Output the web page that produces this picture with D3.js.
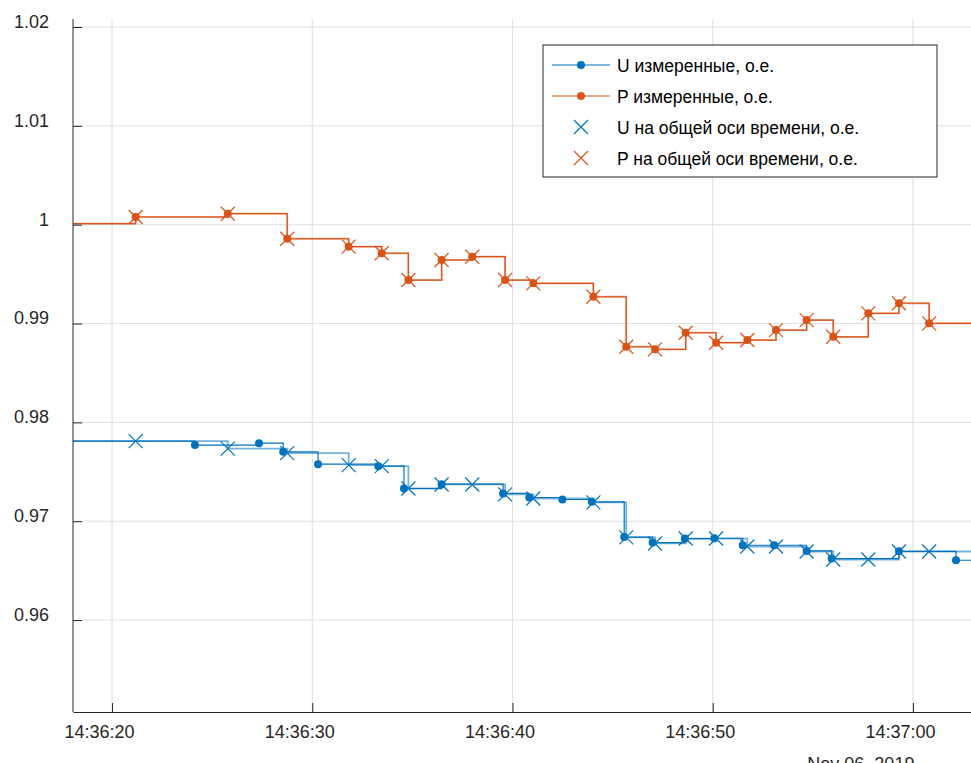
<!DOCTYPE html>
<html>
<head>
<meta charset="utf-8">
<script src="https://cdn.jsdelivr.net/npm/d3@7"></script>
<style>
  body { margin: 0; background: #fff; }
  svg { display: block; font-family: "Liberation Sans", Arial, sans-serif; }
</style>
</head>
<body>
<div id="chart"></div>
<script>
// seconds after 14:36:00, Nov 06 2019
var uTimes = [15.0, 24.14, 27.34, 28.55, 30.29, 33.30, 34.58, 36.46, 39.53, 40.84, 42.49, 43.96,
              45.58, 47.00, 48.61, 50.08, 51.50, 53.07, 54.69, 55.94, 59.30, 62.15];
var uValues = [0.97810, 0.97770, 0.97790, 0.97702, 0.97577, 0.97557, 0.97331, 0.97375, 0.97281, 0.97240, 0.97220, 0.97196,
               0.96840, 0.96784, 0.96825, 0.96828, 0.96757, 0.96757, 0.96700, 0.96622, 0.96696, 0.96605];

var pTimes = [15.0, 21.18, 25.78, 28.75, 31.82, 33.47, 34.80, 36.46, 37.99, 39.63, 41.04, 44.04,
              45.68, 47.12, 48.65, 50.17, 51.73, 53.16, 54.69, 56.02, 57.77, 59.30, 60.81];
var pValues = [1.00010, 1.00078, 1.00111, 0.99858, 0.99778, 0.99711, 0.99440, 0.99643, 0.99676, 0.99440, 0.99407, 0.99271,
               0.98765, 0.98739, 0.98907, 0.98806, 0.98833, 0.98934, 0.99035, 0.98866, 0.99103, 0.99205, 0.99002];

// common time axis = P times, U resampled on it
var commonTimes = pTimes;
var uCommon = [0.97810, 0.97810, 0.97735, 0.97689, 0.97567, 0.97557, 0.97331, 0.97372, 0.97372, 0.97271, 0.97230, 0.97190,
               0.96836, 0.96775, 0.96825, 0.96825, 0.96744, 0.96744, 0.96694, 0.96613, 0.96613, 0.96694, 0.96694];
var pCommon = pValues;

var yTicks = [0.96, 0.97, 0.98, 0.99, 1.00, 1.01, 1.02];
var xTickSecs = [20, 30, 40, 50, 60];

var legendLabels = ["U измеренные, о.е.", "P измеренные, о.е.",
                    "U на общей оси времени, о.е.", "P на общей оси времени, о.е."];

var blue = "#0072BD", orange = "#D95319", axisColor = "#262626";

var width = 971, height = 763,
    margin = {top: 27, right: 0, bottom: 51, left: 73};

function toDate(s) { return new Date(2019, 10, 6, 14, 36, 0, Math.round(s * 1000)); }

var x = d3.scaleTime()
    .domain([toDate(18.05), toDate(62.9)])
    .range([margin.left, width - margin.right]);
var y = d3.scaleLinear()
    .domain([0.9507, 1.02])
    .range([height - margin.bottom, margin.top]);

var svg = d3.select("#chart").append("svg")
    .attr("width", width).attr("height", height);

svg.append("defs").append("clipPath").attr("id", "plotclip")
  .append("rect")
    .attr("x", margin.left).attr("y", margin.top - 10)
    .attr("width", width - margin.left).attr("height", height - margin.bottom - margin.top + 10);

// grid
var grid = svg.append("g").attr("class", "grid");
grid.selectAll("line.gy").data(yTicks).enter().append("line")
    .attr("x1", margin.left).attr("x2", width)
    .attr("y1", function(d) { return y(d); }).attr("y2", function(d) { return y(d); })
    .attr("stroke", "#dfdfdf").attr("stroke-width", 1);
grid.selectAll("line.gx").data(xTickSecs).enter().append("line")
    .attr("x1", function(d) { return x(toDate(d)); }).attr("x2", function(d) { return x(toDate(d)); })
    .attr("y1", margin.top - 8).attr("y2", height - margin.bottom)
    .attr("stroke", "#dfdfdf").attr("stroke-width", 1);

function pts(times, vals) {
    return times.map(function(t, i) { return {t: toDate(t), v: vals[i]}; });
}
var stairs = d3.line()
    .x(function(d) { return x(d.t); })
    .y(function(d) { return y(d.v); })
    .curve(d3.curveStepAfter);

function extend(arr) {
    // hold last value to right edge
    var last = arr[arr.length - 1];
    return arr.concat([{t: toDate(64), v: last.v}]);
}

var plot = svg.append("g").attr("clip-path", "url(#plotclip)");

var uMeas = pts(uTimes, uValues), pMeas = pts(pTimes, pValues);
var uCom = pts(commonTimes, uCommon), pCom = pts(commonTimes, pCommon);

// common-axis stairs (lighter)
plot.append("path").datum(extend(uCom))
    .attr("d", stairs).attr("fill", "none")
    .attr("stroke", blue).attr("stroke-opacity", 0.55).attr("stroke-width", 1.8);
plot.append("path").datum(extend(pCom))
    .attr("d", stairs).attr("fill", "none")
    .attr("stroke", orange).attr("stroke-opacity", 0.55).attr("stroke-width", 1.8);

// measured stairs
plot.append("path").datum(extend(uMeas))
    .attr("d", stairs).attr("fill", "none")
    .attr("stroke", blue).attr("stroke-width", 1.2);
plot.append("path").datum(extend(pMeas))
    .attr("d", stairs).attr("fill", "none")
    .attr("stroke", orange).attr("stroke-width", 1.2);

function drawCross(g, cx, cy, color, r) {
    g.append("path")
        .attr("d", "M" + (cx - r) + "," + (cy - r) + "L" + (cx + r) + "," + (cy + r) +
                   "M" + (cx - r) + "," + (cy + r) + "L" + (cx + r) + "," + (cy - r))
        .attr("stroke", color).attr("stroke-width", 1.2).attr("fill", "none");
}

// dots
plot.selectAll("circle.u").data(uMeas).enter().append("circle")
    .attr("cx", function(d) { return x(d.t); }).attr("cy", function(d) { return y(d.v); })
    .attr("r", 4).attr("fill", blue);
plot.selectAll("circle.p").data(pMeas).enter().append("circle")
    .attr("cx", function(d) { return x(d.t); }).attr("cy", function(d) { return y(d.v); })
    .attr("r", 4).attr("fill", orange);

// crosses
var crossG = plot.append("g");
uCom.forEach(function(d) { drawCross(crossG, x(d.t), y(d.v), blue, 7); });
pCom.forEach(function(d) { drawCross(crossG, x(d.t), y(d.v), orange, 7); });

// axes
var xAxis = d3.axisBottom(x)
    .tickValues(xTickSecs.map(toDate))
    .tickFormat(d3.timeFormat("%H:%M:%S"))
    .tickSizeInner(-9).tickSizeOuter(0).tickPadding(13);
var yAxis = d3.axisLeft(y)
    .tickValues(yTicks)
    .tickFormat(function(d) { return d === 1 ? "1" : d3.format(".2f")(d); })
    .tickSizeInner(-9).tickSizeOuter(0).tickPadding(24);

var gx = svg.append("g")
    .attr("transform", "translate(0," + (height - margin.bottom) + ")")
    .call(xAxis);
var gy = svg.append("g")
    .attr("transform", "translate(" + margin.left + ",0)")
    .call(yAxis);

[gx, gy].forEach(function(g) {
    g.select(".domain").attr("stroke", axisColor).attr("stroke-width", 1);
    g.selectAll(".tick line").attr("stroke", axisColor);
    g.selectAll(".tick text").attr("fill", axisColor)
        .style("font-size", "18px").style("font-family", "'Liberation Sans', Arial, sans-serif");
});
gx.selectAll(".tick text").attr("dx", -13);
gy.selectAll(".tick text").attr("dy", "0.02em");
// extend y axis line a bit above the top tick
gy.select(".domain").attr("d", "M0," + (margin.top - 8) + "V" + (height - margin.bottom));

// date label (cut off at bottom, as in the original)
svg.append("text")
    .attr("x", x(toDate(57.4))).attr("y", height + 7)
    .attr("text-anchor", "middle")
    .attr("fill", axisColor)
    .style("font-size", "18px")
    .text("Nov 06, 2019");

// legend
var lg = svg.append("g").attr("transform", "translate(543,45)");
lg.append("rect").attr("width", 394).attr("height", 132)
    .attr("fill", "#fff").attr("stroke", axisColor).attr("stroke-width", 1);
var legendColors = [blue, orange, blue, orange];
legendLabels.forEach(function(lab, i) {
    var cy = 20 + i * 31;
    if (i < 2) {
        lg.append("line").attr("x1", 9).attr("x2", 67).attr("y1", cy).attr("y2", cy)
            .attr("stroke", legendColors[i]).attr("stroke-width", 1.2);
        lg.append("circle").attr("cx", 38).attr("cy", cy).attr("r", 4).attr("fill", legendColors[i]);
    } else {
        drawCross(lg, 38, cy, legendColors[i], 7);
    }
    lg.append("text").attr("x", 74).attr("y", cy + 7)
        .attr("fill", "#000").style("font-size", "17.5px")
        .text(lab);
});
</script>
</body>
</html>
